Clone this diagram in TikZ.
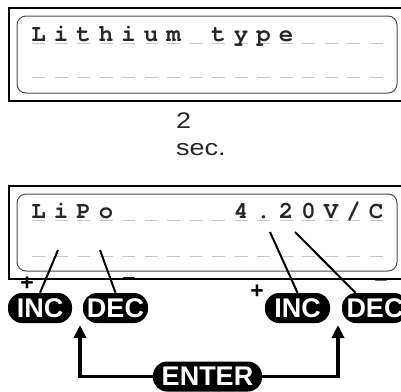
\documentclass[tikz,border=0pt]{standalone}
\usepackage{fontspec}
\setmainfont{Liberation Sans}
\newfontfamily\lcdfont{texgyrecursor}[Extension=.otf, UprightFont=*-regular, BoldFont=*-bold]
\newfontfamily\widefont{Liberation Sans}[FakeStretch=1.2]
\usetikzlibrary{arrows.meta}

\begin{document}
\begin{tikzpicture}[x=1pt, y=-1pt,
  lcdchar/.style={anchor=base, inner sep=0pt, text=black!85, font=\lcdfont\bfseries\fontsize{24}{24}\selectfont},
  lcddash/.style={draw=black!22, line width=1pt, dash pattern=on 13pt off 9.5pt},
  frame/.style={draw=black, line width=1.3pt},
  screen/.style={draw=black!70, line width=1pt, rounded corners=9pt},
  key/.style={fill=black, text=white, rounded corners=14pt, minimum height=30pt, inner sep=0pt, font=\bfseries\fontsize{27}{27}\selectfont},
  sign/.style={inner sep=0pt, font=\bfseries\fontsize{23}{23}\selectfont},
  waittext/.style={anchor=base west, inner sep=0pt, text=black!85},
  pointer/.style={line width=2pt},
  enterarrow/.style={line width=3.2pt, -{Triangle[width=12pt,length=13pt]}}]
\useasboundingbox (0,0) rectangle (401,391);
\clip (0,0) rectangle (401,391);

% first screen
\draw[frame] (9,8) rectangle (412,101);
\draw[screen] (17,16) rectangle (397,93);
\draw[lcddash] (32,43) -- (390,43);
\draw[lcddash] (32,77) -- (390,77);
\foreach \ch [count=\k from 0] in {L,i,t,h,i,u,m}
  \node[lcdchar] (lith\k) at ({38.5+22.5*\k},41) {\ch};
\foreach \ch [count=\k from 8] in {t,y,p,e}
  \node[lcdchar] (type\k) at ({38.5+22.5*\k},41) {\ch};

\node[waittext] (two) at (176,128) {\widefont\fontsize{22.5}{22.5}\selectfont 2};
\node[waittext] (sec) at (176,155) {\widefont\fontsize{22.5}{22.5}\selectfont sec.};

% second screen
\draw[frame] (9,186) rectangle (412,279);
\draw[screen] (17,194) rectangle (397,271);
\draw[lcddash] (32,220) -- (390,220);
\draw[lcddash] (32,256) -- (390,256);
\foreach \ch [count=\k from 0] in {L,i,P,o}
  \node[lcdchar] (lipo\k) at ({38.5+22.5*\k},218) {\ch};
\foreach \ch [count=\k from 9] in {4,.,2,0,V,/,C}
  \node[lcdchar] (volt\k) at ({38.5+22.5*\k},218) {\ch};

% keys
\node[key, minimum width=64pt] (inc1) at (40,308) {INC};
\node[key, minimum width=65pt] (dec1) at (115.5,308) {DEC};
\node[key, minimum width=65pt] (inc2) at (297.5,308) {INC};
\node[key, minimum width=66pt] (dec2) at (375,308) {DEC};
\node[key, minimum width=109pt] (enter) at (207.5,376.5) {ENTER};

\node[sign] (plus1) at (27,284) {+};
\node[sign] (minus1) at (129,282) {−};
\node[sign] (plus2) at (257,292) {+};
\node[sign] (minus2) at (381,283) {−};

\coordinate (ptype) at (58,250);
\coordinate (ptypeb) at (100,250);
\coordinate (pvolt) at (270,232);
\coordinate (pvoltb) at (295,232);
\draw[pointer] (ptype) -- (inc1.north);
\draw[pointer] (ptypeb) -- (dec1.north);
\draw[pointer] (pvolt) -- (inc2.north);
\draw[pointer] (pvoltb) -- (dec2.142);

\coordinate (tipl) at (80,325);
\coordinate (tipr) at (338,325);
\draw[enterarrow] (enter.west) -| (tipl);
\draw[enterarrow] (enter.east) -| (tipr);
\end{tikzpicture}
\end{document}
